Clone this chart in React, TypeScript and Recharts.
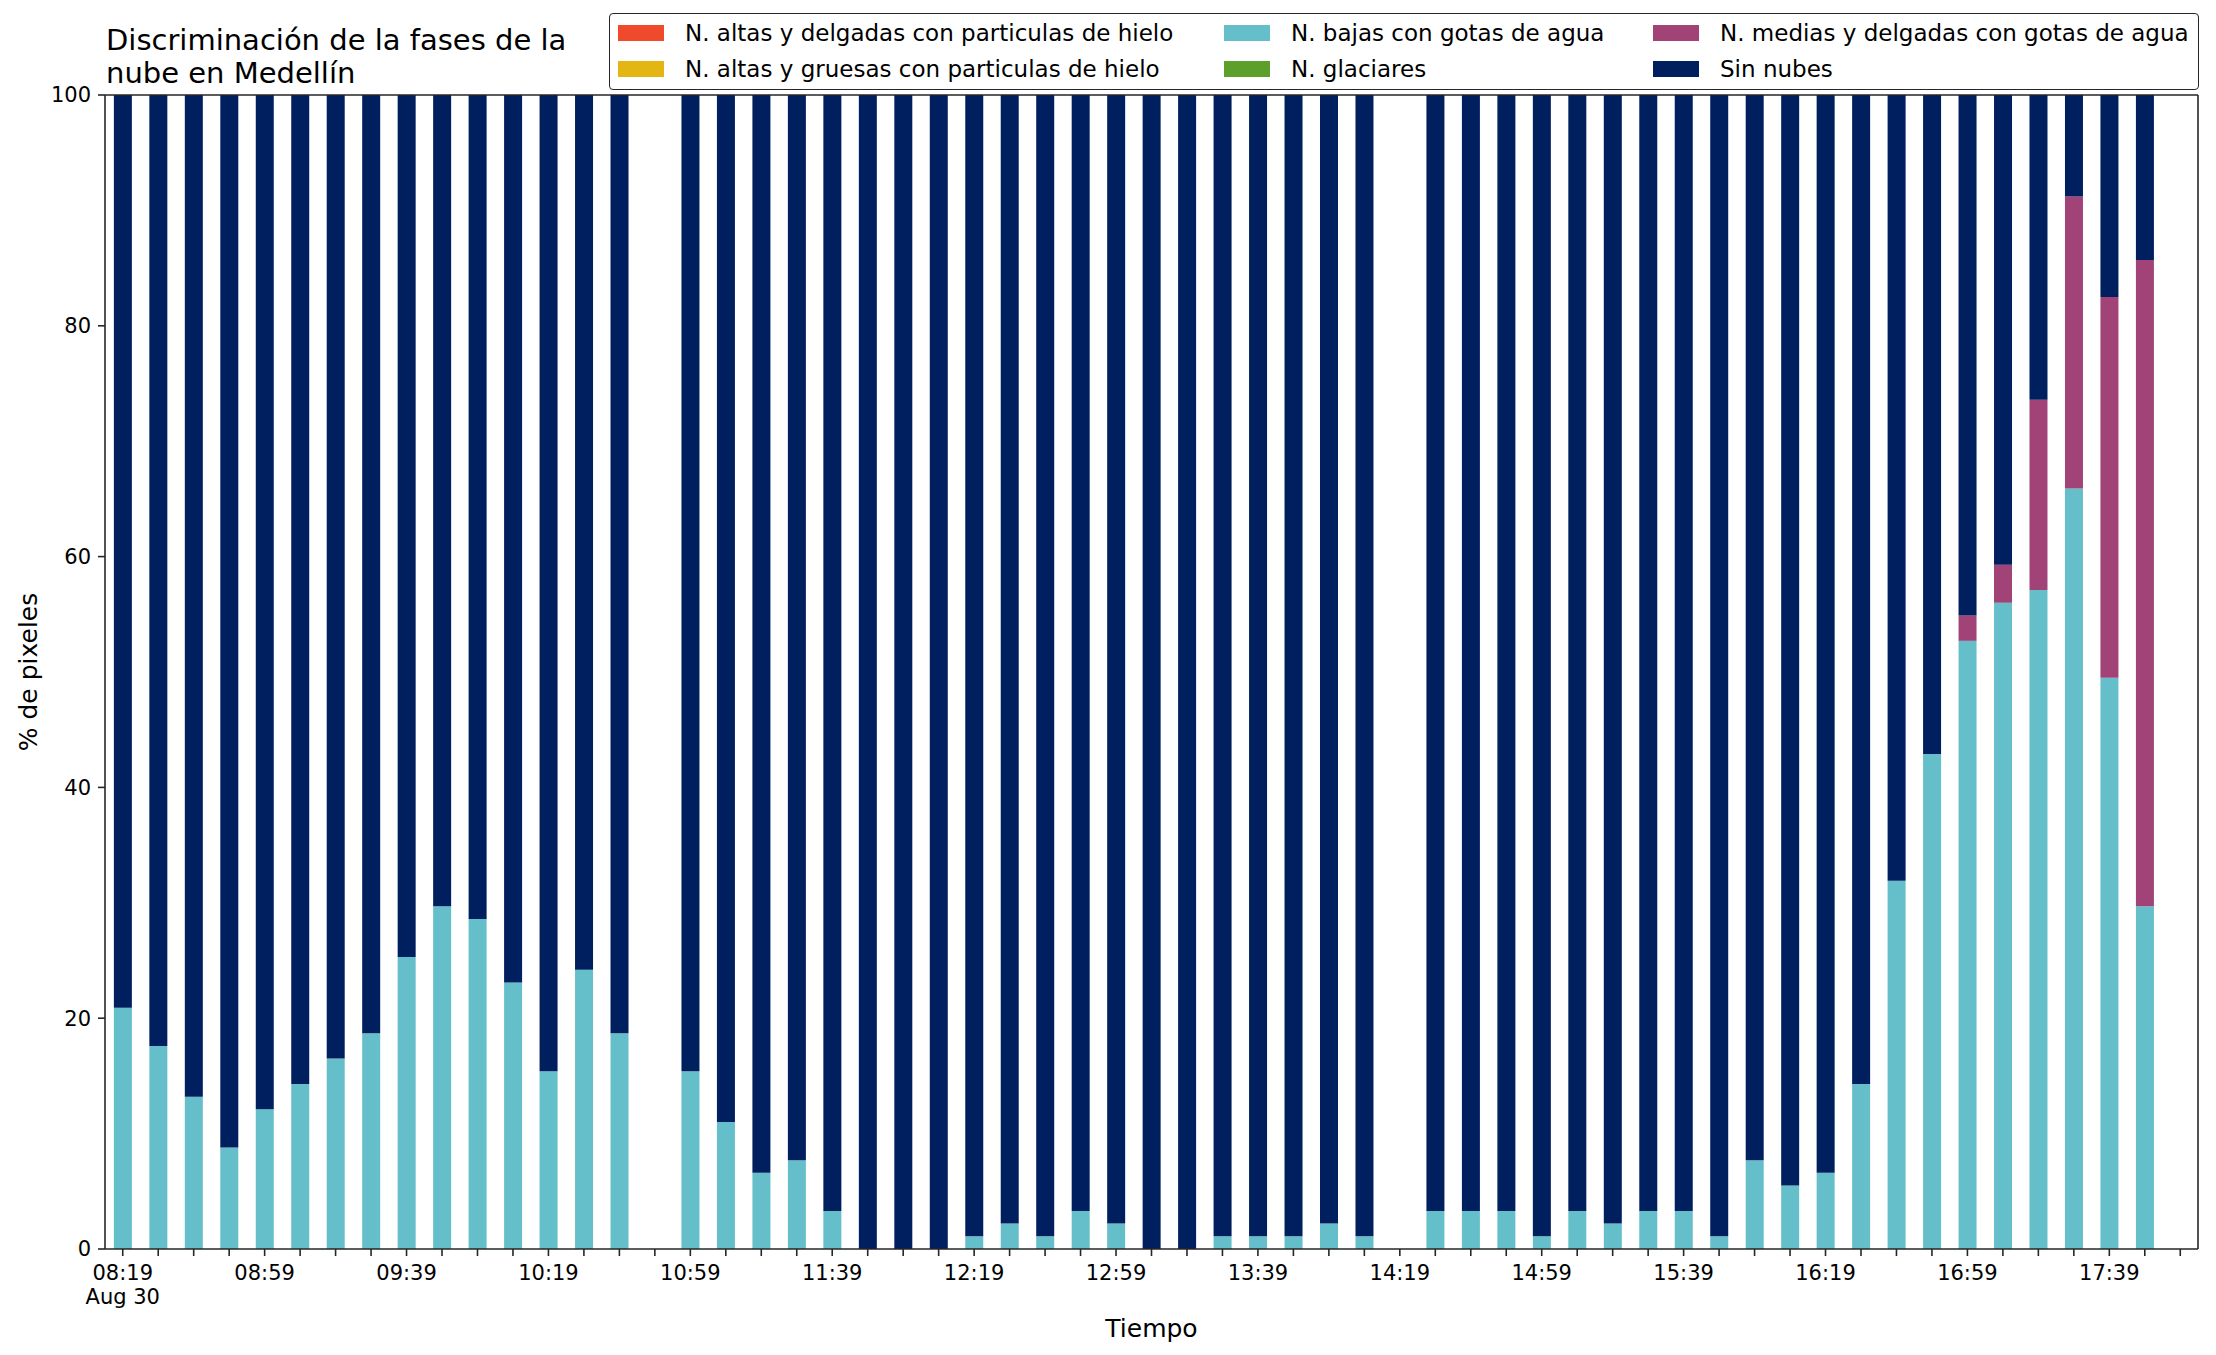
import { Bar, BarChart, XAxis, YAxis } from "recharts";

// 10-minute slots, Aug 30 (gaps at 10:49, 14:19 and 17:59)
const times = [
  "08:19", "08:29", "08:39", "08:49", "08:59", "09:09", "09:19", "09:29", "09:39", "09:49",
  "09:59", "10:09", "10:19", "10:29", "10:39", "10:49", "10:59", "11:09", "11:19", "11:29",
  "11:39", "11:49", "11:59", "12:09", "12:19", "12:29", "12:39", "12:49", "12:59", "13:09",
  "13:19", "13:29", "13:39", "13:49", "13:59", "14:09", "14:19", "14:29", "14:39", "14:49",
  "14:59", "15:09", "15:19", "15:29", "15:39", "15:49", "15:59", "16:09", "16:19", "16:29",
  "16:39", "16:49", "16:59", "17:09", "17:19", "17:29", "17:39", "17:49", "17:59",
];

const altasDelgadas = [
  0, 0, 0, 0, 0, 0, 0, 0, 0, 0, 0, 0, 0, 0, 0, null, 0, 0, 0, 0,
  0, 0, 0, 0, 0, 0, 0, 0, 0, 0, 0, 0, 0, 0, 0, 0, null, 0, 0, 0,
  0, 0, 0, 0, 0, 0, 0, 0, 0, 0, 0, 0, 0, 0, 0, 0, 0, 0, null,
];

const altasGruesas = [
  0, 0, 0, 0, 0, 0, 0, 0, 0, 0, 0, 0, 0, 0, 0, null, 0, 0, 0, 0,
  0, 0, 0, 0, 0, 0, 0, 0, 0, 0, 0, 0, 0, 0, 0, 0, null, 0, 0, 0,
  0, 0, 0, 0, 0, 0, 0, 0, 0, 0, 0, 0, 0, 0, 0, 0, 0, 0, null,
];

const bajas = [
  20.9, 17.6, 13.2, 8.8, 12.1, 14.3, 16.5, 18.7, 25.3, 29.7,
  28.6, 23.1, 15.4, 24.2, 18.7, null, 15.4, 11.0, 6.6, 7.7,
  3.3, 0, 0, 0, 1.1, 2.2, 1.1, 3.3, 2.2, 0,
  0, 1.1, 1.1, 1.1, 2.2, 1.1, null, 3.3, 3.3, 3.3,
  1.1, 3.3, 2.2, 3.3, 3.3, 1.1, 7.7, 5.5, 6.6, 14.3,
  31.9, 42.9, 52.7, 56.0, 57.1, 65.9, 49.5, 29.7, null,
];

const glaciares = [
  0, 0, 0, 0, 0, 0, 0, 0, 0, 0, 0, 0, 0, 0, 0, null, 0, 0, 0, 0,
  0, 0, 0, 0, 0, 0, 0, 0, 0, 0, 0, 0, 0, 0, 0, 0, null, 0, 0, 0,
  0, 0, 0, 0, 0, 0, 0, 0, 0, 0, 0, 0, 0, 0, 0, 0, 0, 0, null,
];

const medias = [
  0, 0, 0, 0, 0, 0, 0, 0, 0, 0, 0, 0, 0, 0, 0, null, 0, 0, 0, 0,
  0, 0, 0, 0, 0, 0, 0, 0, 0, 0, 0, 0, 0, 0, 0, 0, null, 0, 0, 0,
  0, 0, 0, 0, 0, 0, 0, 0, 0, 0, 0, 0, 2.2, 3.3, 16.5, 25.3, 33.0, 56.0, null,
];

const sinNubes = [
  79.1, 82.4, 86.8, 91.2, 87.9, 85.7, 83.5, 81.3, 74.7, 70.3,
  71.4, 76.9, 84.6, 75.8, 81.3, null, 84.6, 89.0, 93.4, 92.3,
  96.7, 100, 100, 100, 98.9, 97.8, 98.9, 96.7, 97.8, 100,
  100, 98.9, 98.9, 98.9, 97.8, 98.9, null, 96.7, 96.7, 96.7,
  98.9, 96.7, 97.8, 96.7, 96.7, 98.9, 92.3, 94.5, 93.4, 85.7,
  68.1, 57.1, 45.1, 40.7, 26.4, 8.8, 17.5, 14.3, null,
];

const yTicks = [0, 20, 40, 60, 80, 100];

const series = [
  { key: "altasDelgadas", name: "N. altas y delgadas con particulas de hielo", color: "#EF4A2C" },
  { key: "altasGruesas", name: "N. altas y gruesas con particulas de hielo", color: "#E4B614" },
  { key: "bajas", name: "N. bajas con gotas de agua", color: "#65BFCA" },
  { key: "glaciares", name: "N. glaciares", color: "#5C9F2A" },
  { key: "medias", name: "N. medias y delgadas con gotas de agua", color: "#A14376" },
  { key: "sinNubes", name: "Sin nubes", color: "#001F5F" },
];

const data = times.map((time, i) => ({
  time,
  altasDelgadas: altasDelgadas[i],
  altasGruesas: altasGruesas[i],
  bajas: bajas[i],
  glaciares: glaciares[i],
  medias: medias[i],
  sinNubes: sinNubes[i],
}));

const FONT = "'DejaVu Sans', sans-serif";
const SPINE = "#262626";

function TimeTick(props: any) {
  const { x, y, payload } = props;
  const i = payload?.index ?? props.index;
  if (i % 4 !== 0) return null;
  return (
    <g transform={`translate(${x},${y})`}>
      <text textAnchor="middle" dy={17} fontSize={21} fill="#000" fontFamily={FONT}>
        {payload.value}
      </text>
      {i === 0 && (
        <text textAnchor="middle" dy={41} fontSize={21} fill="#000" fontFamily={FONT}>
          Aug 30
        </text>
      )}
    </g>
  );
}

// legend laid out like matplotlib's ncol=3 (filled column by column)
const legendCols = [
  { left: 8, items: [series[0], series[1]] },
  { left: 614, items: [series[2], series[3]] },
  { left: 1043, items: [series[4], series[5]] },
];

function LegendBox() {
  return (
    <div
      style={{
        position: "absolute",
        left: 609,
        top: 13,
        width: 1588,
        height: 75,
        border: `1.5px solid ${SPINE}`,
        borderRadius: 4,
        background: "#fff",
        fontFamily: FONT,
        fontSize: 23,
        color: "#000",
      }}
    >
      {legendCols.map((col) =>
        col.items.map((s, r) => (
          <div
            key={s.key}
            style={{
              position: "absolute",
              left: col.left,
              top: r === 0 ? 5 : 41,
              height: 28,
              display: "flex",
              alignItems: "center",
              whiteSpace: "nowrap",
            }}
          >
            <span style={{ width: 46, height: 16, background: s.color, marginRight: 21 }} />
            <span>{s.name}</span>
          </div>
        ))
      )}
    </div>
  );
}

export default function App() {
  return (
    <div style={{ position: "absolute", left: 0, top: 0, width: 2216, height: 1355, background: "#fff" }}>
      <div
        style={{
          position: "absolute",
          left: 106,
          top: 24,
          fontFamily: FONT,
          fontSize: 29,
          lineHeight: "33px",
          color: "#000",
        }}
      >
        Discriminación de la fases de la
        <br />
        nube en Medellín
      </div>

      <BarChart
        width={2216}
        height={1355}
        data={data}
        margin={{ top: 94, right: 17, bottom: 0, left: 0 }}
        barCategoryGap="25%"
      >
        <XAxis
          dataKey="time"
          interval={0}
          height={106}
          tickSize={7}
          tickMargin={7}
          tick={<TimeTick />}
          tickLine={{ stroke: SPINE, strokeWidth: 1.6 }}
          axisLine={{ stroke: SPINE, strokeWidth: 1.6 }}
          label={{
            value: "Tiempo",
            position: "insideBottom",
            offset: 18,
            style: { fontFamily: FONT, fontSize: 25, fill: "#000" },
          }}
        />
        <XAxis
          xAxisId="top"
          orientation="top"
          dataKey="time"
          height={1}
          tick={false}
          tickLine={false}
          axisLine={{ stroke: SPINE, strokeWidth: 1.6 }}
        />
        <YAxis
          domain={[0, 100]}
          ticks={yTicks}
          width={105}
          tickSize={7}
          tickMargin={7}
          tick={{ fontSize: 21, fill: "#000", fontFamily: FONT }}
          tickLine={{ stroke: SPINE, strokeWidth: 1.6 }}
          axisLine={{ stroke: SPINE, strokeWidth: 1.6 }}
          label={{
            value: "% de pixeles",
            angle: -90,
            position: "insideLeft",
            offset: 28,
            style: { fontFamily: FONT, fontSize: 25, fill: "#000", textAnchor: "middle" },
          }}
        />
        <YAxis
          yAxisId="right"
          orientation="right"
          domain={[0, 100]}
          width={1}
          tick={false}
          tickLine={false}
          axisLine={{ stroke: SPINE, strokeWidth: 1.6 }}
        />
        {series.map((s) => (
          <Bar
            key={s.key}
            dataKey={s.key}
            name={s.name}
            stackId="fase"
            fill={s.color}
            isAnimationActive={false}
          />
        ))}
      </BarChart>

      <LegendBox />
    </div>
  );
}
